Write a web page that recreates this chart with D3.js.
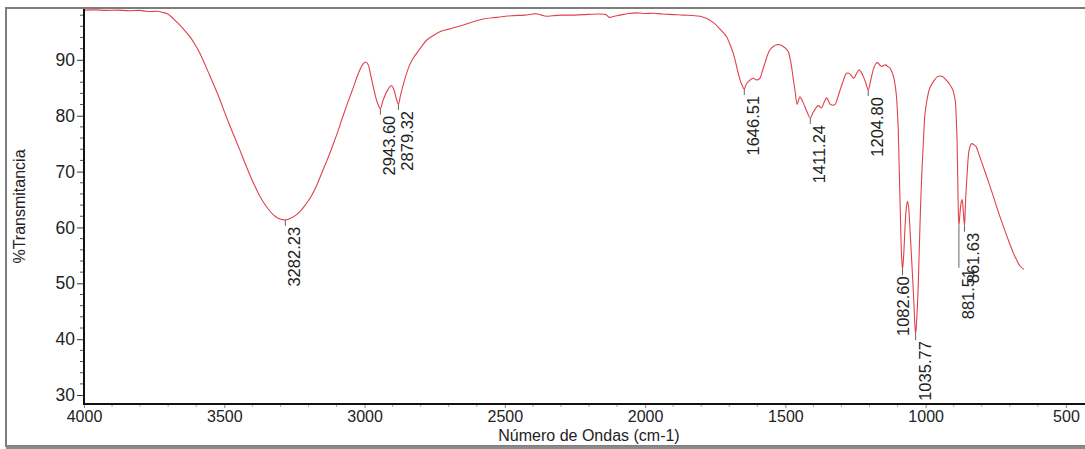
<!DOCTYPE html>
<html>
<head>
<meta charset="utf-8">
<script src="https://cdn.jsdelivr.net/npm/d3@7"></script>
<style>
  html, body { margin: 0; padding: 0; background: #fff; }
  svg { display: block; font-family: "Liberation Sans", Arial, sans-serif; }
</style>
</head>
<body>
<svg id="chart" width="1085" height="449"></svg>
<script>
// FTIR spectrum: wavenumber (cm-1) against % transmittance
const wavenumbers = [
  4000, 3960, 3920, 3880, 3840, 3800, 3780, 3760, 3740, 3720, 3705, 3693, 3680, 3658, 3640,
  3622, 3605, 3587, 3570, 3551, 3533, 3515, 3498, 3480, 3462, 3444, 3426, 3408, 3390, 3373,
  3355, 3337, 3319, 3301, 3282.23, 3265, 3242, 3227, 3210, 3190, 3170, 3152, 3133, 3114, 3095,
  3077, 3058, 3039, 3025, 3014, 3005, 2996, 2988, 2977, 2968, 2958, 2950, 2943.60, 2935, 2920,
  2904, 2895, 2886, 2879.32, 2872, 2864, 2846, 2830, 2814, 2795, 2777, 2750, 2727, 2700, 2664,
  2620, 2577, 2530, 2477, 2430, 2400, 2389, 2370, 2352, 2330, 2300, 2264, 2220, 2164, 2140,
  2127, 2110, 2090, 2060, 2027, 2000, 1970, 1939, 1900, 1864, 1830, 1804, 1785, 1769, 1750,
  1733, 1720, 1709, 1698, 1686, 1677, 1668, 1658, 1646.51, 1640, 1632, 1615, 1603, 1591, 1582,
  1573, 1564, 1555, 1543, 1531, 1520, 1508, 1498, 1490, 1484, 1478, 1472, 1466, 1458, 1453,
  1448, 1442, 1436, 1424, 1411.24, 1403, 1395, 1383, 1371, 1362, 1353, 1346, 1339, 1323, 1314,
  1305, 1294, 1282, 1274, 1267, 1256, 1247, 1237, 1230, 1222, 1213, 1204.80, 1196, 1187, 1178,
  1171, 1164, 1157, 1150, 1142, 1135, 1127, 1120, 1113, 1108, 1104, 1100, 1098, 1095, 1092,
  1089, 1086, 1082.60, 1079, 1075, 1070, 1065, 1061, 1058, 1054, 1050, 1046, 1042, 1038.5, 1035.77,
  1032, 1027, 1024, 1021, 1018, 1015, 1012, 1009, 1005, 1002, 995, 985, 967, 958, 949,
  940, 931, 920, 913, 903, 899, 894, 891, 888, 885, 881.51, 877, 873, 870, 866,
  861.63, 858, 852, 845, 838, 834, 828, 821, 808, 795, 777, 759, 741, 723, 705,
  688, 676, 664, 650
];
const transmittance = [
  98.9, 98.95, 98.85, 98.9, 98.8, 98.85, 98.7, 98.65, 98.7, 98.5, 98.3, 97.9, 97.3, 96.2, 95.2,
  94.1, 92.8, 91.2, 89.3, 87.1, 85.0, 82.8, 80.5, 78.2, 76.0, 73.8, 71.5, 69.3, 67.3, 65.6,
  64.1, 62.9, 62.0, 61.5, 61.35, 61.6, 62.3, 63.0, 64.1, 65.6, 67.6, 69.8, 72.1, 74.6, 77.2,
  79.9, 82.6, 85.2, 87.2, 88.5, 89.3, 89.6, 89.2, 87.0, 85.0, 82.9, 81.8, 81.25, 82.6, 84.4,
  85.4, 84.6, 82.9, 82.1, 83.6, 85.2, 88.2, 90.0, 91.2, 92.5, 93.6, 94.5, 95.1, 95.5, 96.0,
  96.7, 97.3, 97.6, 97.9, 98.0, 98.2, 98.25, 98.0, 97.8, 97.9, 98.0, 98.0, 98.1, 98.2, 98.1,
  97.6, 97.8, 98.0, 98.3, 98.4, 98.3, 98.35, 98.2, 98.1, 98.0, 97.95, 97.8, 97.5, 97.1, 96.4,
  95.5, 94.8, 94.1, 92.8, 91.2, 89.5, 87.6, 85.9, 84.8, 85.6, 86.1, 86.7, 86.4, 86.7, 88.0,
  89.4, 90.8, 91.8, 92.4, 92.7, 92.7, 92.4, 92.0, 91.5, 90.4, 88.8, 86.6, 84.6, 82.0, 82.8,
  83.4, 82.9, 82.3, 80.8, 79.6, 80.4, 81.1, 81.8, 81.4, 82.4, 83.2, 82.6, 82.0, 82.0, 83.2,
  84.6, 86.2, 87.6, 87.6, 87.3, 86.7, 87.5, 88.2, 87.8, 87.0, 85.8, 84.6, 86.3, 88.2, 89.3,
  89.5, 89.1, 88.8, 89.0, 89.1, 88.8, 88.5, 87.8, 86.7, 85.2, 83.4, 80.0, 78.0, 72.0, 66.0,
  60.0, 55.0, 52.5, 54.5, 58.5, 63.0, 64.7, 63.8, 61.5, 58.0, 54.3, 50.5, 46.6, 42.5, 40.9,
  43.5, 48.9, 54.0, 59.1, 64.0, 68.0, 71.5, 74.5, 78.5, 80.5, 82.9, 85.0, 86.5, 87.0, 87.1,
  87.0, 86.6, 86.0, 85.5, 84.6, 83.8, 82.5, 79.5, 75.5, 66.5, 60.3, 63.0, 64.6, 65.0, 63.0,
  60.3, 64.5, 69.8, 73.9, 74.9, 75.0, 74.8, 74.5, 72.8, 70.9, 68.3, 65.6, 62.8, 60.2, 57.7,
  55.5, 54.2, 53.1, 52.5
];
const peakLabels = [3282.23, 2943.60, 2879.32, 1646.51, 1411.24, 1204.80, 1082.60, 1035.77, 881.51, 861.63];
const xTicks = [4000, 3500, 3000, 2500, 2000, 1500, 1000, 500];
const yTicks = [30, 40, 50, 60, 70, 80, 90];

const svg = d3.select("#chart");
const plotLeft = 84, plotTop = 9, plotBottom = 404, plotRight = 1094;

const x = d3.scaleLinear().domain([4000, 400]).range([plotLeft, plotRight]);
const y = d3.scaleLinear().domain([28.4, 99.1]).range([plotBottom, plotTop]);

// outer frame
svg.append("rect")
  .attr("x", 6).attr("y", 8).attr("width", 1100).attr("height", 438)
  .attr("fill", "none").attr("stroke", "#7d7d7d").attr("stroke-width", 2);
svg.append("line")
  .attr("x1", 6).attr("x2", 1085).attr("y1", 447.5).attr("y2", 447.5)
  .attr("stroke", "#8a8a8a").attr("stroke-width", 3);

svg.append("clipPath").attr("id", "plotClip")
  .append("rect").attr("x", plotLeft).attr("y", plotTop)
  .attr("width", plotRight - plotLeft).attr("height", plotBottom - plotTop);

// spectrum
const points = wavenumbers.map((w, i) => [w, transmittance[i]]);
const line = d3.line().x(d => x(d[0])).y(d => y(d[1])).curve(d3.curveCatmullRom.alpha(0.5));
svg.append("path")
  .datum(points)
  .attr("clip-path", "url(#plotClip)")
  .attr("fill", "none")
  .attr("stroke", "#e0414b")
  .attr("stroke-width", 1.1)
  .attr("d", line);

// y axis with minor ticks every 2 %
const yMinor = d3.range(30, 99, 2).filter(v => v % 10 !== 0);
svg.append("g").selectAll("line").data(yMinor).join("line")
  .attr("x1", plotLeft - 4).attr("x2", plotLeft)
  .attr("y1", d => y(d)).attr("y2", d => y(d))
  .attr("stroke", "#555").attr("stroke-width", 1);
const yAxis = svg.append("g")
  .attr("transform", `translate(${plotLeft},0)`)
  .call(d3.axisLeft(y).tickValues(yTicks).tickSize(7).tickPadding(2).tickFormat(d3.format("d")));
yAxis.select(".domain").remove();
yAxis.selectAll(".tick line").attr("stroke", "#333");
yAxis.selectAll(".tick text").attr("font-size", 17.5).attr("fill", "#222")
  .attr("font-family", "Liberation Sans, Arial, sans-serif");

// x axis with minor ticks every 100 cm-1
const xMinor = d3.range(3900, 400, -100).filter(v => v % 500 !== 0);
svg.append("g").selectAll("line").data(xMinor).join("line")
  .attr("x1", d => x(d)).attr("x2", d => x(d))
  .attr("y1", plotBottom).attr("y2", plotBottom + 3)
  .attr("stroke", "#aaa").attr("stroke-width", 1);
const xAxis = svg.append("g")
  .attr("transform", `translate(0,${plotBottom})`)
  .call(d3.axisBottom(x).tickValues(xTicks).tickSize(4).tickPadding(3).tickFormat(d3.format("d")));
xAxis.select(".domain").remove();
xAxis.selectAll(".tick line").attr("stroke", "#888");
xAxis.selectAll(".tick text").attr("font-size", 16).attr("fill", "#222")
  .attr("font-family", "Liberation Sans, Arial, sans-serif");

// axis lines
svg.append("line").attr("x1", plotLeft).attr("x2", plotLeft).attr("y1", plotTop).attr("y2", plotBottom + 1)
  .attr("stroke", "#111").attr("stroke-width", 2);
svg.append("line").attr("x1", plotLeft - 1).attr("x2", 1085).attr("y1", plotBottom).attr("y2", plotBottom)
  .attr("stroke", "#111").attr("stroke-width", 2);

// axis titles
svg.append("text")
  .attr("x", (plotLeft + plotRight) / 2).attr("y", 441)
  .attr("text-anchor", "middle").attr("font-size", 16).attr("fill", "#222")
  .text("Número de Ondas (cm-1)");
svg.append("text")
  .attr("transform", `translate(25,${(plotTop + plotBottom) / 2}) rotate(-90)`)
  .attr("text-anchor", "middle").attr("font-size", 16).attr("fill", "#222")
  .text("%Transmitancia");

// peak annotations: short leader below each minimum, value written upward
const labelShift = { "1082.60": { dx: -8, dy: 0 }, "881.51": { dx: 0, dy: 36 } };
const peakGroup = svg.append("g");
peakLabels.forEach(p => {
  const t = transmittance[wavenumbers.indexOf(p)];
  const px = x(p), py = y(t);
  const key = p.toFixed(2);
  const s = labelShift[key] || { dx: 0, dy: 0 };
  const textTop = py + 7 + s.dy;
  peakGroup.append("line")
    .attr("x1", px).attr("x2", px).attr("y1", py).attr("y2", textTop - 1)
    .attr("stroke", "#666").attr("stroke-width", 1);
  peakGroup.append("text")
    .attr("transform", `translate(${px + 15 + s.dx},${textTop}) rotate(-90)`)
    .attr("text-anchor", "end")
    .attr("font-size", 16.5).attr("fill", "#222")
    .text(key);
});
</script>
</body>
</html>
